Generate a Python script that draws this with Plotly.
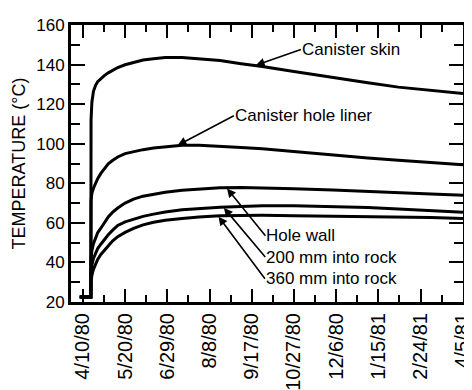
import numpy as np
import pandas as pd
import plotly.graph_objects as go

# ---- data ----
dates = ["1980-04-07 00:00", "1980-04-17 12:00", "1980-04-17 17:00", "1980-04-18 12:00",
         "1980-04-20 00:00", "1980-04-22 00:00", "1980-04-24 00:00", "1980-04-27 00:00",
         "1980-04-30 00:00", "1980-05-04 00:00", "1980-05-08 00:00", "1980-05-13 00:00",
         "1980-05-20 00:00", "1980-05-28 00:00", "1980-06-06 00:00", "1980-06-16 00:00",
         "1980-06-27 00:00", "1980-07-13 00:00", "1980-07-29 00:00", "1980-08-18 00:00",
         "1980-09-07 00:00", "1980-09-27 00:00", "1980-10-27 00:00", "1980-12-03 00:00",
         "1981-01-05 00:00", "1981-02-03 00:00", "1981-03-06 00:00", "1981-04-05 06:00"]

canister_skin = [22.5, 22.5, 112, 121, 126.5, 129.5, 131.3, 133, 134.3, 135.8, 137, 138.5,
                 139.9, 141.2, 142.3, 143, 143.6, 143.6, 143, 142, 140.4, 139, 136.5,
                 133.4, 130.8, 128.6, 127, 125.4]
hole_liner = [22.5, 22.5, 71, 75, 77.5, 80, 82.3, 85, 87.3, 89.8, 91.5, 93.3,
              95, 96.1, 97, 97.8, 98.5, 99.2, 99.2, 98.8, 98.1, 97.4, 96,
              94, 92.8, 91.6, 90.5, 89.4]
hole_wall = [22.5, 22.5, 42, 46, 49.5, 52.5, 55, 57.3, 60, 63, 65.3, 67.5,
             70, 72, 73.5, 74.6, 75.5, 76.5, 77.2, 77.7, 77.9, 77.7, 77.2,
             76.6, 76, 75.3, 74.6, 73.9]
rock_200mm = [22.5, 22.5, 34, 38.5, 42, 45, 47, 49.2, 51.3, 54, 56.2, 58.7,
              60.5, 62, 63.3, 64.4, 65.5, 66.6, 67.3, 67.9, 68.3, 68.6, 68.6,
              68.3, 67.8, 67, 66.2, 65.4]
rock_360mm = [22.5, 22.5, 30, 33.5, 36.5, 39.3, 41.5, 44, 46, 48.7, 50.8, 53,
              55.2, 57.2, 59, 60.3, 61.3, 62.2, 63, 63.6, 63.8, 63.8, 63.6,
              63.4, 63.3, 63.1, 62.7, 62.2]

tick_dates = ["1980-04-10", "1980-05-20", "1980-06-29", "1980-08-08", "1980-09-17",
              "1980-10-27", "1980-12-06", "1981-01-15", "1981-02-24", "1981-04-05"]
tick_labels = ["4/10/80", "5/20/80", "6/29/80", "8/8/80", "9/17/80",
               "10/27/80", "12/6/80", "1/15/81", "2/24/81", "4/5/81"]

series_names = ["Canister skin", "Canister hole liner", "Hole wall",
                "200 mm into rock", "360 mm into rock"]
series_vals = [canister_skin, hole_liner, hole_wall, rock_200mm, rock_360mm]
label_dates = ["1980-09-20", "1980-07-08", "1980-08-24", "1980-08-21", "1980-08-16"]
label_offsets = [(46, -16), (57, -30), (39, 48), (42, 50), (47, 63)]

FONT = "Liberation Sans, Arial, Helvetica, sans-serif"

fig = go.Figure()
x_dt = pd.to_datetime(dates, format="%Y-%m-%d %H:%M")
for name, vals in zip(series_names, series_vals):
    fig.add_trace(go.Scatter(x=x_dt, y=vals, mode="lines", name=name,
                             line=dict(color="black", width=3),
                             showlegend=False))

x_num = np.array([d.value for d in x_dt], dtype=float)
for name, vals, ld, (ax, ay) in zip(series_names, series_vals, label_dates, label_offsets):
    t = pd.Timestamp(ld)
    yv = float(np.interp(float(t.value), x_num, vals))
    fig.add_annotation(x=t, y=yv, text=name, showarrow=True,
                       ax=ax, ay=ay, xanchor="left", yanchor="middle",
                       arrowhead=2, arrowsize=1.1, arrowwidth=1.6,
                       arrowcolor="black", standoff=1, borderpad=0,
                       font=dict(family=FONT, size=17, color="black"))

fig.update_layout(
    width=472, height=390,
    margin=dict(l=63, r=7, t=17, b=82),
    paper_bgcolor="white", plot_bgcolor="white",
    font=dict(family=FONT, size=17, color="black"),
)
fig.update_xaxes(
    range=["1980-03-29 17:00", "1981-04-05 06:00"],
    tickmode="array", tickvals=tick_dates, ticktext=tick_labels,
    tickangle=-90, tickfont=dict(size=20), ticklabeloverflow="allow",
    showline=True, linecolor="black", linewidth=3, mirror="ticks",
    ticks="inside", ticklen=13, tickwidth=2, tickcolor="black",
    minor=dict(tick0="1980-04-10", dtick=20 * 86400000, ticks="inside",
               ticklen=7, tickwidth=2, tickcolor="black"),
    showgrid=False, zeroline=False,
)
fig.update_yaxes(
    range=[20, 160], dtick=20, tick0=20,
    tickfont=dict(size=17),
    showline=True, linecolor="black", linewidth=3, mirror="ticks",
    ticks="inside", ticklen=14, tickwidth=2, tickcolor="black",
    minor=dict(dtick=10, ticks="inside", ticklen=9, tickwidth=2, tickcolor="black"),
    showgrid=False, zeroline=False,
    title=dict(text="TEMPERATURE (°C)", font=dict(size=18), standoff=6),
)

fig.write_html("out.html")
